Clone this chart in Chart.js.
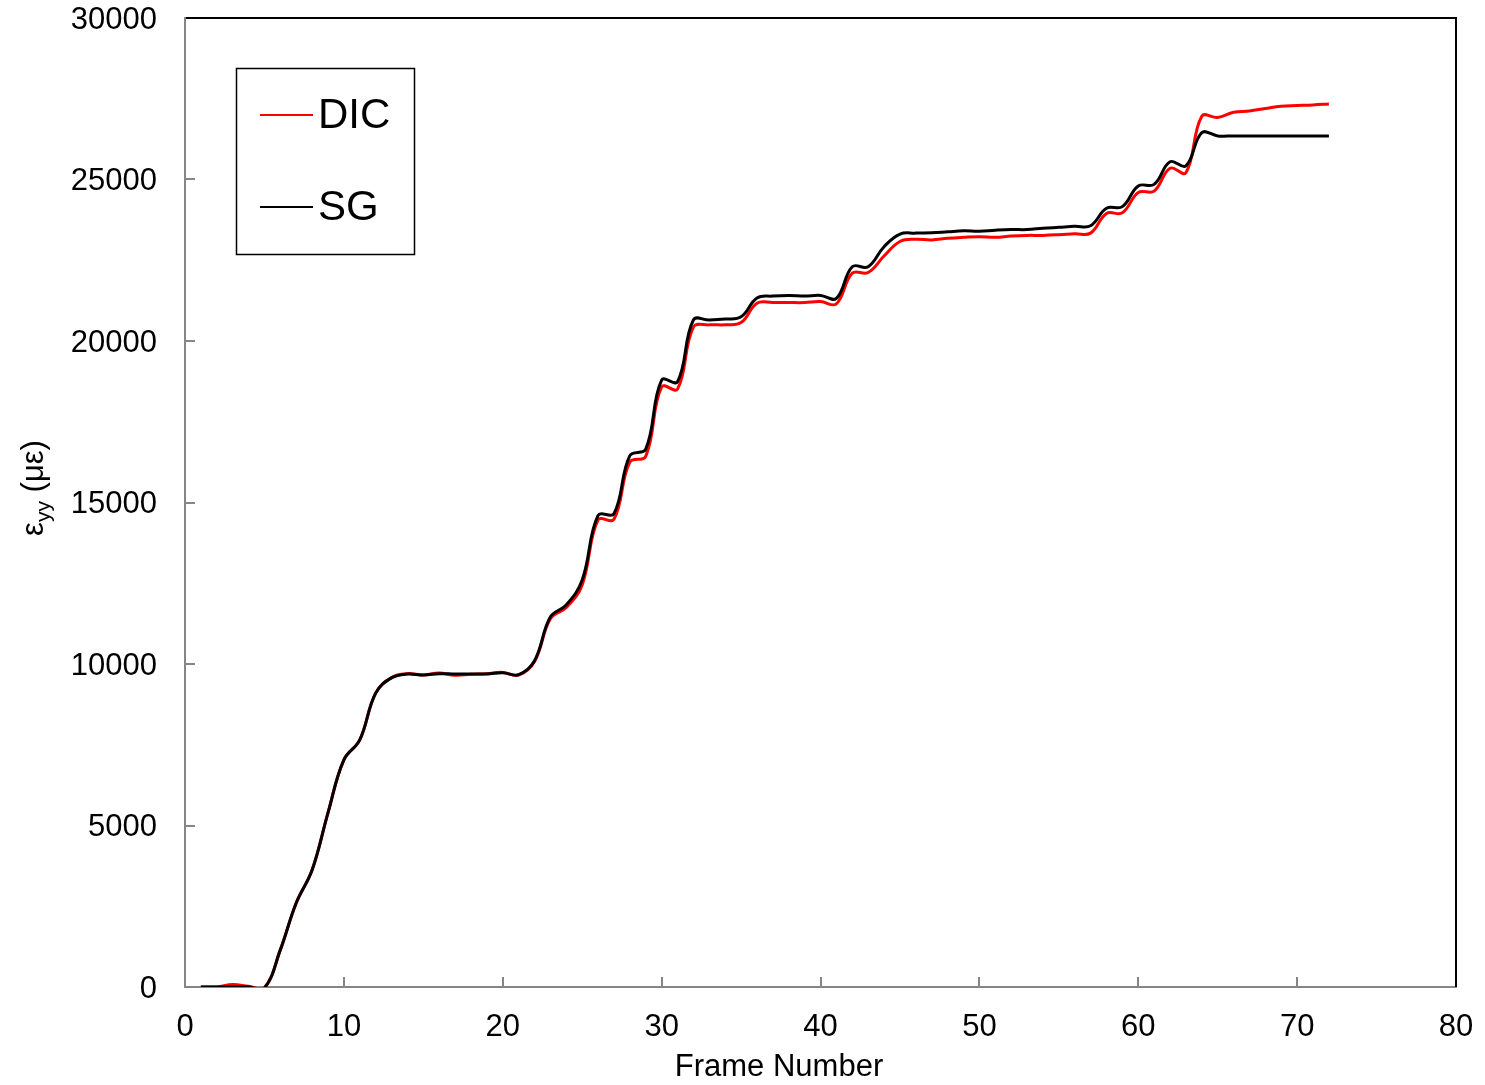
<!DOCTYPE html>
<html>
<head>
<meta charset="utf-8">
<title>Strain vs Frame Number</title>
<script src="https://cdn.jsdelivr.net/npm/chart.js@4.4.0/dist/chart.umd.min.js"></script>
<style>
  body { margin: 0; background: #fff; }
  canvas { display: block; }
</style>
</head>
<body>
<canvas id="cvs" width="1485" height="1085"></canvas>
<script>
// ---- data ----
const frames = [1, 2, 3, 4, 5, 6, 7, 8, 9, 10, 11, 12, 13, 14, 15, 16, 17, 18, 19, 20,
    21, 22, 23, 24, 25, 26, 27, 28, 29, 30, 31, 32, 33, 34, 35, 36, 37, 38, 39, 40,
    41, 42, 43, 44, 45, 46, 47, 48, 49, 50, 51, 52, 53, 54, 55, 56, 57, 58, 59, 60,
    61, 62, 63, 64, 65, 66, 67, 68, 69, 70, 71, 72];

const dicStrain = [0, 0, 80, 20, -20, 1150, 2600, 3620, 5390, 7030,
    7650, 9100, 9580, 9700, 9660, 9720, 9650, 9680, 9700, 9740,
    9660, 10080, 11400, 11750, 12450, 14460, 14480, 16250, 16430, 18580,
    18510, 20430, 20500, 20500, 20570, 21170, 21190, 21190, 21190, 21220,
    21150, 22100, 22120, 22630, 23080, 23150, 23130, 23180, 23210, 23230,
    23210, 23250, 23270, 23270, 23290, 23320, 23340, 23950, 23970, 24600,
    24640, 25350, 25210, 26960, 26920, 27080, 27120, 27200, 27270, 27290,
    27310, 27340];

const sgStrain = [0, 0, 0, 0, -30, 1150, 2600, 3620, 5390, 7030,
    7650, 9100, 9570, 9690, 9660, 9700, 9690, 9690, 9690, 9730,
    9670, 10100, 11460, 11830, 12600, 14600, 14650, 16450, 16650, 18790,
    18740, 20650, 20650, 20680, 20750, 21330, 21390, 21410, 21390, 21410,
    21320, 22300, 22300, 22920, 23310, 23340, 23350, 23380, 23410, 23400,
    23430, 23450, 23450, 23490, 23520, 23550, 23570, 24110, 24160, 24800,
    24850, 25550, 25420, 26450, 26350, 26350, 26350, 26350, 26350, 26350,
    26350, 26350];

const seriesNames = ['DIC', 'SG'];
const xTicks = [0, 10, 20, 30, 40, 50, 60, 70, 80];
const yTicks = [0, 5000, 10000, 15000, 20000, 25000, 30000];
const xTitle = 'Frame Number';

/*==========| setup styles |========== */
const fontName = '"Liberation Sans", Arial, sans-serif';
const axisGray = '#868686';
const clrDIC = '#ff0000';
const clrSG = '#000000';

const toPoints = (vals) => frames.map((f, i) => ({x: f, y: vals[i]}));

/*==========| plugin : frame, inner ticks, titles, legend |========== */
const framePlugin = {
    id: 'frame',
    afterDraw(chart) {
        const {ctx, chartArea: a} = chart;
        const x = chart.scales.x;
        const y = chart.scales.y;
        ctx.save();

        // tick marks pointing inside the plot
        ctx.strokeStyle = axisGray;
        ctx.lineWidth = 2;
        ctx.beginPath();
        y.ticks.forEach(t => {
            const py = Math.round(y.getPixelForValue(t.value));
            ctx.moveTo(a.left, py);
            ctx.lineTo(a.left + 10, py);
        });
        x.ticks.forEach(t => {
            const px = Math.round(x.getPixelForValue(t.value));
            ctx.moveTo(px, a.bottom);
            ctx.lineTo(px, a.bottom - 10);
        });
        ctx.stroke();

        // top and right border are black
        ctx.strokeStyle = '#000';
        ctx.lineWidth = 2;
        ctx.beginPath();
        ctx.moveTo(a.left + 1, a.top);
        ctx.lineTo(a.right, a.top);
        ctx.lineTo(a.right, a.bottom);
        ctx.stroke();

        // x axis title
        ctx.fillStyle = '#000';
        ctx.font = '31px ' + fontName;
        ctx.textAlign = 'center';
        ctx.textBaseline = 'alphabetic';
        ctx.fillText(xTitle, 779, 1076);

        // y axis title with subscript
        ctx.translate(43, 488);
        ctx.rotate(-Math.PI / 2);
        ctx.textAlign = 'left';
        const big = '31px ' + fontName;
        const small = '21px ' + fontName;
        ctx.font = big;
        const w1 = ctx.measureText('ε').width;
        const w3 = ctx.measureText(' (με)').width;
        ctx.font = small;
        const w2 = ctx.measureText('yy').width;
        let cx = -(w1 + w2 + w3) / 2;
        ctx.font = big;
        ctx.fillText('ε', cx, 0);
        cx += w1;
        ctx.font = small;
        ctx.fillText('yy', cx, 7);
        cx += w2;
        ctx.font = big;
        ctx.fillText(' (με)', cx, 0);
        ctx.restore();

        // legend box
        ctx.save();
        ctx.fillStyle = '#fff';
        ctx.fillRect(236, 68, 178, 186);
        ctx.strokeStyle = '#000';
        ctx.lineWidth = 1.5;
        ctx.strokeRect(236.5, 68.5, 178, 186);
        const rows = [115, 207];
        chart.data.datasets.forEach((ds, i) => {
            ctx.strokeStyle = ds.borderColor;
            ctx.lineWidth = 2;
            ctx.beginPath();
            ctx.moveTo(260, rows[i]);
            ctx.lineTo(313, rows[i]);
            ctx.stroke();
            ctx.fillStyle = '#000';
            ctx.font = '42px ' + fontName;
            ctx.textAlign = 'left';
            ctx.textBaseline = 'middle';
            ctx.fillText(ds.label, 318, rows[i] + 1);
        });
        ctx.restore();
    }
};

/*==========| the chart |========== */
const context = document.getElementById('cvs').getContext('2d');
const strainChart = new Chart(context, {
    type: 'line',
    data: {
        datasets: [{
            label: seriesNames[0],
            data: toPoints(dicStrain),
            borderColor: clrDIC,
            borderWidth: 3,
            pointRadius: 0,
            tension: 0.4,
            fill: false,
            order: 1
        }, {
            label: seriesNames[1],
            data: toPoints(sgStrain),
            borderColor: clrSG,
            borderWidth: 3,
            pointRadius: 0,
            tension: 0.4,
            fill: false,
            order: 0
        }]
    },
    options: {
        responsive: false,
        devicePixelRatio: 1,
        animation: false,
        layout: {
            padding: {left: 0, top: 18, right: 29, bottom: 0}
        },
        plugins: {
            legend: {display: false},
            tooltip: {enabled: false},
            title: {display: false}
        },
        scales: {
            x: {
                type: 'linear',
                min: 0,
                max: 80,
                afterBuildTicks: (scale) => { scale.ticks = xTicks.map(v => ({value: v})); },
                afterFit: (scale) => {
                    scale.height = 98;
                    scale.paddingLeft = 0;
                    scale.paddingRight = 0;
                },
                grid: {display: true, drawOnChartArea: false, drawTicks: false},
                border: {display: true, color: axisGray, width: 2},
                ticks: {
                    color: '#000',
                    padding: 22,
                    maxRotation: 0,
                    font: {family: fontName, size: 31}
                }
            },
            y: {
                type: 'linear',
                min: 0,
                max: 30000,
                afterBuildTicks: (scale) => { scale.ticks = yTicks.map(v => ({value: v})); },
                afterFit: (scale) => {
                    scale.width = 185;
                    scale.paddingTop = 0;
                    scale.paddingBottom = 0;
                },
                grid: {display: true, drawOnChartArea: false, drawTicks: false},
                border: {display: true, color: axisGray, width: 2},
                ticks: {
                    color: '#000',
                    padding: 28,
                    labelOffset: 2,
                    font: {family: fontName, size: 31},
                    callback: (v) => String(v)
                }
            }
        }
    },
    plugins: [framePlugin]
});
</script>
</body>
</html>
